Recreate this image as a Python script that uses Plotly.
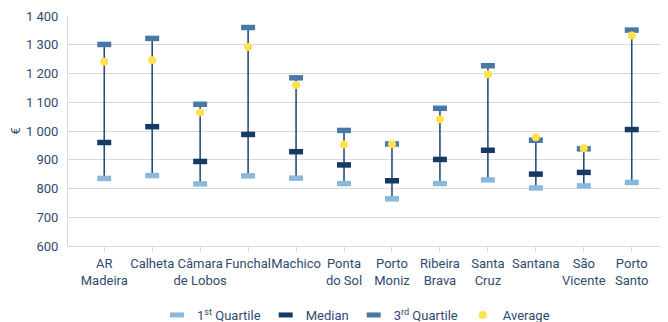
import plotly.graph_objects as go

categories = ["AR<br>Madeira", "Calheta", "Câmara<br>de Lobos", "Funchal", "Machico",
              "Ponta<br>do Sol", "Porto<br>Moniz", "Ribeira<br>Brava", "Santa<br>Cruz",
              "Santana", "São<br>Vicente", "Porto<br>Santo"]
q1 = [835, 845, 816, 844, 836, 817, 764, 817, 830, 802, 809, 821]
median = [960, 1015, 894, 988, 928, 882, 827, 901, 933, 850, 856, 1005]
q3 = [1301, 1322, 1093, 1360, 1185, 1002, 955, 1079, 1227, 968, 938, 1351]
average = [1241, 1246, 1064, 1292, 1160, 953, 954, 1041, 1197, 978, 940, 1332]

FONT = "Roboto"
TXT = "#2f4b70"
C_Q1 = "#8bb9dd"
C_MED = "#163a66"
C_Q3 = "#4a78a6"
C_AVG = "#ffe04d"
C_LINE = "#2a4d7a"

fig = go.Figure()

# high-low lines
lx, ly = [], []
for i, c in enumerate(categories):
    vals = [q1[i], median[i], q3[i], average[i]]
    lx += [c, c, None]
    ly += [min(vals), max(vals), None]
fig.add_trace(go.Scatter(x=lx, y=ly, mode="lines", line=dict(color=C_LINE, width=1.6),
                         showlegend=False, hoverinfo="skip"))

def dash_trace(name, y, color):
    return go.Scatter(x=categories, y=y, mode="markers", name=name,
                      marker=dict(symbol="line-ew", size=10,
                                  line=dict(color=color, width=5.5), color=color))

fig.add_trace(dash_trace("1<sup>st</sup> Quartile", q1, C_Q1))
fig.add_trace(dash_trace("Median", median, C_MED))
fig.add_trace(dash_trace("3<sup>rd</sup> Quartile", q3, C_Q3))
fig.add_trace(go.Scatter(x=categories, y=average, mode="markers", name="Average",
                         marker=dict(symbol="circle", size=8, color=C_AVG,
                                     line=dict(width=0))))

fig.update_layout(
    width=660, height=314,
    margin=dict(l=60, r=0, t=8, b=76, autoexpand=False),
    paper_bgcolor="white", plot_bgcolor="white",
    font=dict(family=FONT, size=13, color=TXT),
    separators=", ",
    showlegend=True,
    legend=dict(orientation="h", x=0.48, xanchor="center", y=-0.30, yanchor="middle",
                font=dict(family=FONT, size=13, color=TXT), traceorder="normal",
                itemwidth=30),
    xaxis=dict(type="category", showgrid=False, showline=True, linecolor="#d9d9d9",
               ticks="outside", ticklen=5, tickcolor="#d9d9d9", tickangle=0,
               automargin=False,
               tickfont=dict(family=FONT, size=13, color=TXT)),
    yaxis=dict(range=[600, 1400], dtick=100, tickformat=",d", showgrid=True,
               gridcolor="#d9d9d9", gridwidth=1, showline=True, linecolor="#d9d9d9",
               zeroline=False, ticks="", ticklabelstandoff=6, automargin=False,
               title=dict(text="€", font=dict(family=FONT, size=13, color=TXT), standoff=10),
               tickfont=dict(family=FONT, size=13, color=TXT)),
)

fig.write_html("out.html")
